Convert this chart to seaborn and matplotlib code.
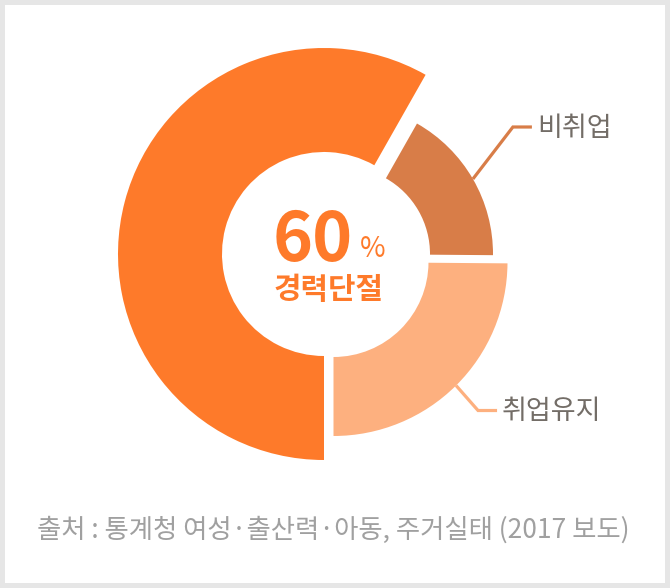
import matplotlib
matplotlib.use("Agg")
import matplotlib.pyplot as plt
from matplotlib.patches import Rectangle
import seaborn as sns
import numpy as np

sns.set_theme(style="white")
plt.rcParams['font.family'] = ['Noto Sans CJK KR', 'DejaVu Sans']

# ---- data ----
categories = ["경력단절", "비취업", "취업유지"]
values = [58.5, 17, 25]
center_value = "60"
center_unit = "%"
source_text = "출처 : 통계청 여성·출산력·아동, 주거실태 (2017 보도)"

# ---- style ----
colors = ["#FE7A2A", "#D87D48", "#FDB07F"]
W, H = 670, 588
cx, cy = 324, 588 - 254
radii = [206, 150, 174]
widths = [104, 63, 79]
offsets = [(0, 0), (19, 0), (9.5, -8)]
label_elbows = [None, (40, 52), (22, -25)]
label_tail = 19

fig = plt.figure(figsize=(W / 100, H / 100), dpi=100)
fig.patch.set_facecolor("#e6e6e6")
fig.patches.append(Rectangle((5 / W, 5 / H), 1 - 10 / W, 1 - 10 / H,
                             transform=fig.transFigure, facecolor="white",
                             edgecolor="none", zorder=-5))
ax = fig.add_axes([0, 0, 1, 1])
ax.set_zorder(1)
ax.set_facecolor("none")
ax.patch.set_alpha(0)

wedges, _ = ax.pie(values, colors=colors, startangle=270, counterclock=False,
                   center=(cx, cy), radius=radii[0],
                   wedgeprops=dict(width=widths[0], linewidth=0))
ax.set_xlim(0, W)
ax.set_ylim(0, H)
ax.set_aspect("equal")
ax.axis("off")

for w, r, wd, (dx, dy) in zip(wedges, radii, widths, offsets):
    w.set_center((cx + dx, cy + dy))
    w.set_radius(r)
    w.set_width(wd)

# leader lines and labels
for i in (1, 2):
    w = wedges[i]
    mid = np.deg2rad((w.theta1 + w.theta2) / 2)
    wcx, wcy = w.center
    sx, sy = wcx + w.r * np.cos(mid), wcy + w.r * np.sin(mid)
    ex, ey = sx + label_elbows[i][0], sy + label_elbows[i][1]
    tx = ex + label_tail
    ax.plot([sx, ex, tx], [sy, ey, ey], color=colors[i], lw=2.3,
            solid_capstyle="butt", solid_joinstyle="miter")
    ax.text(tx + 5, ey - 1, categories[i], fontsize=19.5, color="#736d67",
            ha="left", va="center")

# center text
ax.text(312.5, H - 260.5, center_value, fontsize=49, fontweight="bold",
        color="#FE7A2A", ha="center", va="baseline")
ax.text(360, H - 257.3, center_unit, fontsize=20, color="#FE7A2A",
        ha="left", va="baseline")
ax.text(329, H - 290, categories[0], fontsize=21.5, fontweight="bold",
        color="#FE7A2A", ha="center", va="center")

# source
ax.text(333.5, H - 530, source_text, fontsize=19, color="#a0a0a0",
        ha="center", va="center")

fig.savefig("out.png", dpi=100)
